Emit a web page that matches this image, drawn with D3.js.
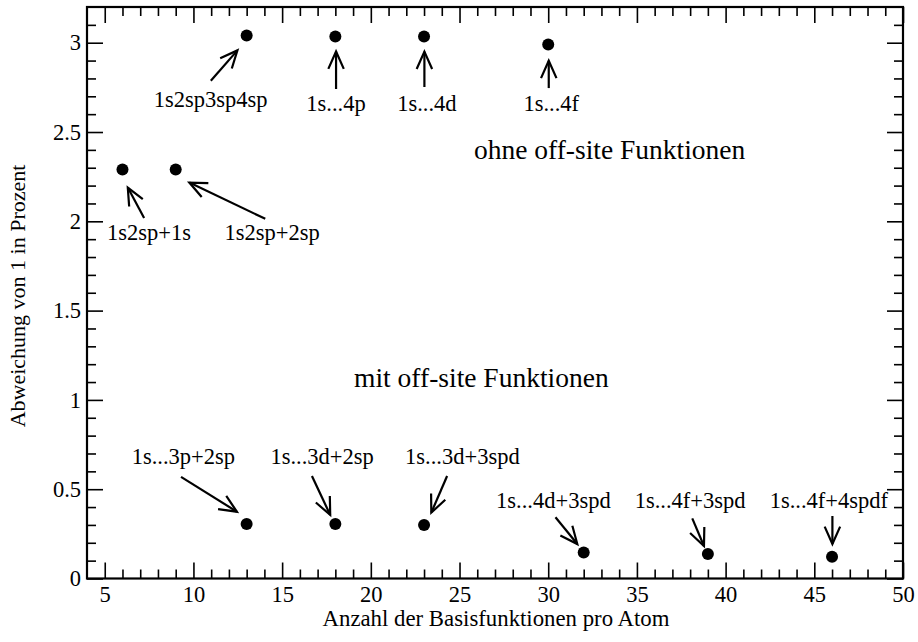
<!DOCTYPE html>
<html>
<head>
<meta charset="utf-8">
<script src="https://cdn.jsdelivr.net/npm/d3@7"></script>
<style>
  html, body { margin: 0; padding: 0; background: #fff; }
  svg { display: block; }
  text { font-family: "Liberation Serif", "Times New Roman", Times, serif; fill: #000; }
</style>
</head>
<body>
<svg id="chart" width="918" height="642"></svg>
<script>
// ---- data ----
const pointX = [6, 9, 13, 18, 23, 30, 13, 18, 23, 32, 39, 46];
const pointY = [2.29, 2.29, 3.04, 3.035, 3.035, 2.99, 0.305, 0.305, 0.30, 0.145, 0.137, 0.122];

const labelText = ["1s2sp+1s", "1s2sp+2sp", "1s2sp3sp4sp", "1s...4p", "1s...4d", "1s...4f",
                   "1s...3p+2sp", "1s...3d+2sp", "1s...3d+3spd", "1s...4d+3spd", "1s...4f+3spd", "1s...4f+4spdf"];
const labelX = [7.50, 14.44, 10.97, 18.04, 23.16, 30.17, 9.43, 17.25, 25.16, 30.29, 38.00, 45.82];
const labelY = [1.893, 1.893, 2.640, 2.619, 2.619, 2.619, 0.641, 0.641, 0.641, 0.395, 0.395, 0.395];
const arrowFromX = [7.22, 14.05, 10.98, 18.04, 23.02, 30.03, 9.30, 16.68, 24.30, 30.41, 38.12, 46.02];
const arrowFromY = [2.018, 2.014, 2.787, 2.741, 2.752, 2.746, 0.569, 0.574, 0.574, 0.343, 0.337, 0.350];
const arrowToX = [6.30, 9.77, 12.48, 18.04, 23.02, 30.03, 12.45, 17.71, 23.41, 31.64, 38.78, 46.02];
const arrowToY = [2.189, 2.217, 2.957, 2.951, 2.950, 2.899, 0.374, 0.356, 0.369, 0.193, 0.182, 0.193];

const noteText = ["ohne off-site Funktionen", "mit off-site Funktionen"];
const noteX = [33.46, 26.23];
const noteY = [2.348, 1.073];

const xMajorTicks = [5, 10, 15, 20, 25, 30, 35, 40, 45, 50];
const yMajorTicks = [0, 0.5, 1, 1.5, 2, 2.5, 3];
const xTitle = "Anzahl der Basisfunktionen pro Atom";
const yTitle = "Abweichung von 1 in Prozent";

// ---- layout ----
const svg = d3.select("#chart");
const L = 87, R = 903, T = 7, B = 578.5;
const x = d3.scaleLinear().domain([4, 50]).range([L, R]);
const y = d3.scaleLinear().domain([0, 3.2]).range([B, T]);

const xMinor = d3.range(5, 50, 1).filter(v => v % 5 !== 0);
const yMinor = d3.range(1, 32, 1).map(v => v / 10).filter(v => Math.abs(v * 2 - Math.round(v * 2)) > 1e-9);

const majorLen = 16, minorLen = 9;
const fmt = d => (d === 0 ? "0" : d3.format("~g")(d));

function styleTicks(g) {
  g.select(".domain").remove();
  g.selectAll("line").attr("stroke", "#000").attr("stroke-width", 1.6);
}

// bottom axis
const gB = svg.append("g").attr("transform", `translate(0,${B})`)
  .call(d3.axisBottom(x).tickValues(xMajorTicks).tickSizeInner(-majorLen).tickSizeOuter(0).tickPadding(23).tickFormat(fmt))
  .call(styleTicks);
gB.selectAll("text").attr("font-size", 22.5).attr("font-family", "Liberation Serif").attr("fill", "#000").attr("dy", "0");
svg.append("g").attr("transform", `translate(0,${B})`)
  .call(d3.axisBottom(x).tickValues(xMinor).tickSizeInner(-minorLen).tickSizeOuter(0).tickFormat(""))
  .call(styleTicks);

// top axis (mirror)
svg.append("g").attr("transform", `translate(0,${T})`)
  .call(d3.axisTop(x).tickValues(xMajorTicks).tickSizeInner(-majorLen).tickSizeOuter(0).tickFormat(""))
  .call(styleTicks);
svg.append("g").attr("transform", `translate(0,${T})`)
  .call(d3.axisTop(x).tickValues(xMinor).tickSizeInner(-minorLen).tickSizeOuter(0).tickFormat(""))
  .call(styleTicks);

// left axis
const gL = svg.append("g").attr("transform", `translate(${L},0)`)
  .call(d3.axisLeft(y).tickValues(yMajorTicks).tickSizeInner(-majorLen).tickSizeOuter(0).tickPadding(7).tickFormat(fmt))
  .call(styleTicks);
gL.selectAll("text").attr("font-size", 22.5).attr("font-family", "Liberation Serif").attr("fill", "#000").attr("x", -6);
svg.append("g").attr("transform", `translate(${L},0)`)
  .call(d3.axisLeft(y).tickValues(yMinor).tickSizeInner(-minorLen).tickSizeOuter(0).tickFormat(""))
  .call(styleTicks);

// right axis (mirror)
svg.append("g").attr("transform", `translate(${R},0)`)
  .call(d3.axisRight(y).tickValues(yMajorTicks).tickSizeInner(-majorLen).tickSizeOuter(0).tickFormat(""))
  .call(styleTicks);
svg.append("g").attr("transform", `translate(${R},0)`)
  .call(d3.axisRight(y).tickValues(yMinor).tickSizeInner(-minorLen).tickSizeOuter(0).tickFormat(""))
  .call(styleTicks);

// frame
svg.append("rect").attr("x", L).attr("y", T).attr("width", R - L).attr("height", B - T)
  .attr("fill", "none").attr("stroke", "#000").attr("stroke-width", 2.2);

// axis titles
svg.append("text").attr("x", 496).attr("y", 626).attr("text-anchor", "middle")
  .attr("font-size", 22.8).text(xTitle);
svg.append("text").attr("transform", `translate(25,${296}) rotate(-90)`).attr("text-anchor", "middle")
  .attr("font-size", 22).text(yTitle);

// points
svg.append("g").selectAll("circle").data(pointX).join("circle")
  .attr("cx", (d, i) => x(pointX[i])).attr("cy", (d, i) => y(pointY[i])).attr("r", 6).attr("fill", "#000");

// arrows
const headLen = 19, headAng = 24 * Math.PI / 180;
const ag = svg.append("g").attr("stroke", "#000").attr("stroke-width", 2.2).attr("fill", "none").attr("stroke-linecap", "butt");
labelText.forEach((t, i) => {
  const x1 = x(arrowFromX[i]), y1 = y(arrowFromY[i]);
  const x2 = x(arrowToX[i]), y2 = y(arrowToY[i]);
  ag.append("line").attr("x1", x1).attr("y1", y1).attr("x2", x2).attr("y2", y2);
  const a = Math.atan2(y1 - y2, x1 - x2);
  const p1 = [x2 + headLen * Math.cos(a + headAng), y2 + headLen * Math.sin(a + headAng)];
  const p2 = [x2 + headLen * Math.cos(a - headAng), y2 + headLen * Math.sin(a - headAng)];
  ag.append("path").attr("d", `M${p1[0]},${p1[1]}L${x2},${y2}L${p2[0]},${p2[1]}`).attr("stroke-linejoin", "miter");
});

// labels
svg.append("g").selectAll("text").data(labelText).join("text")
  .attr("x", (d, i) => x(labelX[i])).attr("y", (d, i) => y(labelY[i]))
  .attr("text-anchor", "middle").attr("font-size", 22.5).text(d => d);

// notes
svg.append("g").selectAll("text").data(noteText).join("text")
  .attr("x", (d, i) => x(noteX[i])).attr("y", (d, i) => y(noteY[i]))
  .attr("text-anchor", "middle").attr("font-size", 27.5).text(d => d);
</script>
</body>
</html>
